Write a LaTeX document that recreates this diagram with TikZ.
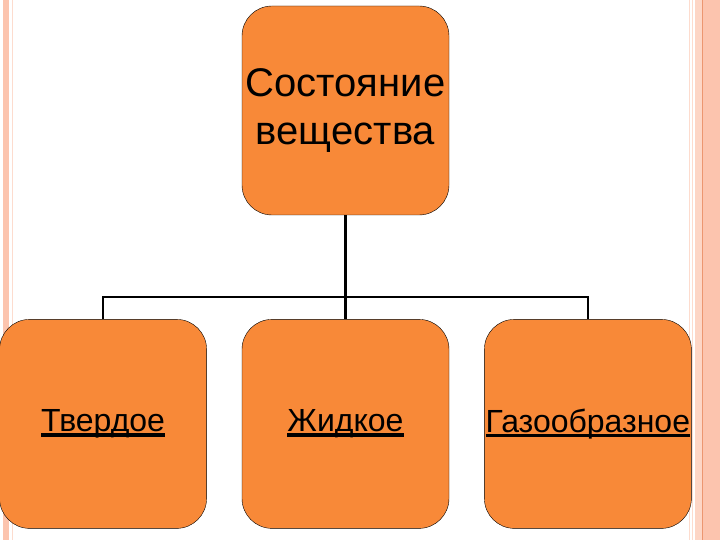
\documentclass[tikz,border=0pt]{standalone}
\usepackage{fontspec}
\setmainfont{Liberation Sans}
\usetikzlibrary{positioning}

\definecolor{boxorange}{RGB}{248,137,56}
\definecolor{edgepink}{RGB}{252,196,174}
\definecolor{edgeline}{RGB}{236,150,112}

\newcommand{\linktext}[1]{\setbox0=\hbox{#1}\rlap{\rule[-5pt]{\wd0}{3.5pt}}\box0}

\begin{document}
\begin{tikzpicture}[
  x=1pt, y=1pt,
  node distance=35pt,
  state/.style={draw=black, fill=boxorange, rounded corners=30pt,
    minimum width=207pt, minimum height=209pt, inner sep=0pt,
    font=\fontsize{32}{38}\selectfont},
  head/.style={state, align=center, font=\fontsize{40}{48}\selectfont},
  link/.style={line width=2.5pt}
]
  \useasboundingbox (0,0) rectangle (720,540);

  % side stripes
  \fill[edgepink] (3,0) rectangle (9,540);
  \draw[edgepink!60, line width=1pt] (12.5,0) -- (12.5,540);
  \draw[edgepink!60, line width=1pt] (689.5,0) -- (689.5,540);
  \draw[edgepink!60, line width=1pt] (692.5,0) -- (692.5,540);
  \fill[edgepink!70] (695,0) rectangle (720,540);
  \fill[edgepink] (703,0) rectangle (720,540);
  \draw[edgeline, line width=1pt] (702,0) -- (702,540);

  \node (state) [head] at (345.5,429.5) {Состояние\\вещества};

  \node (liquid) [state, below=104pt of state] {\linktext{Жидкое}};
  \node (solid) [state, left=of liquid] {\linktext{Твердое}};
  \node (gas) [state, right=of liquid] {\linktext{Газообразное}};

  \coordinate (bus) at ([yshift=22pt]liquid.north);

  \draw[link] (state.south) -- (bus);
  \draw[link] (solid.north) |- (bus) -| (gas.north);
  \draw[link] (bus) -- (liquid.north);

\end{tikzpicture}
\end{document}
